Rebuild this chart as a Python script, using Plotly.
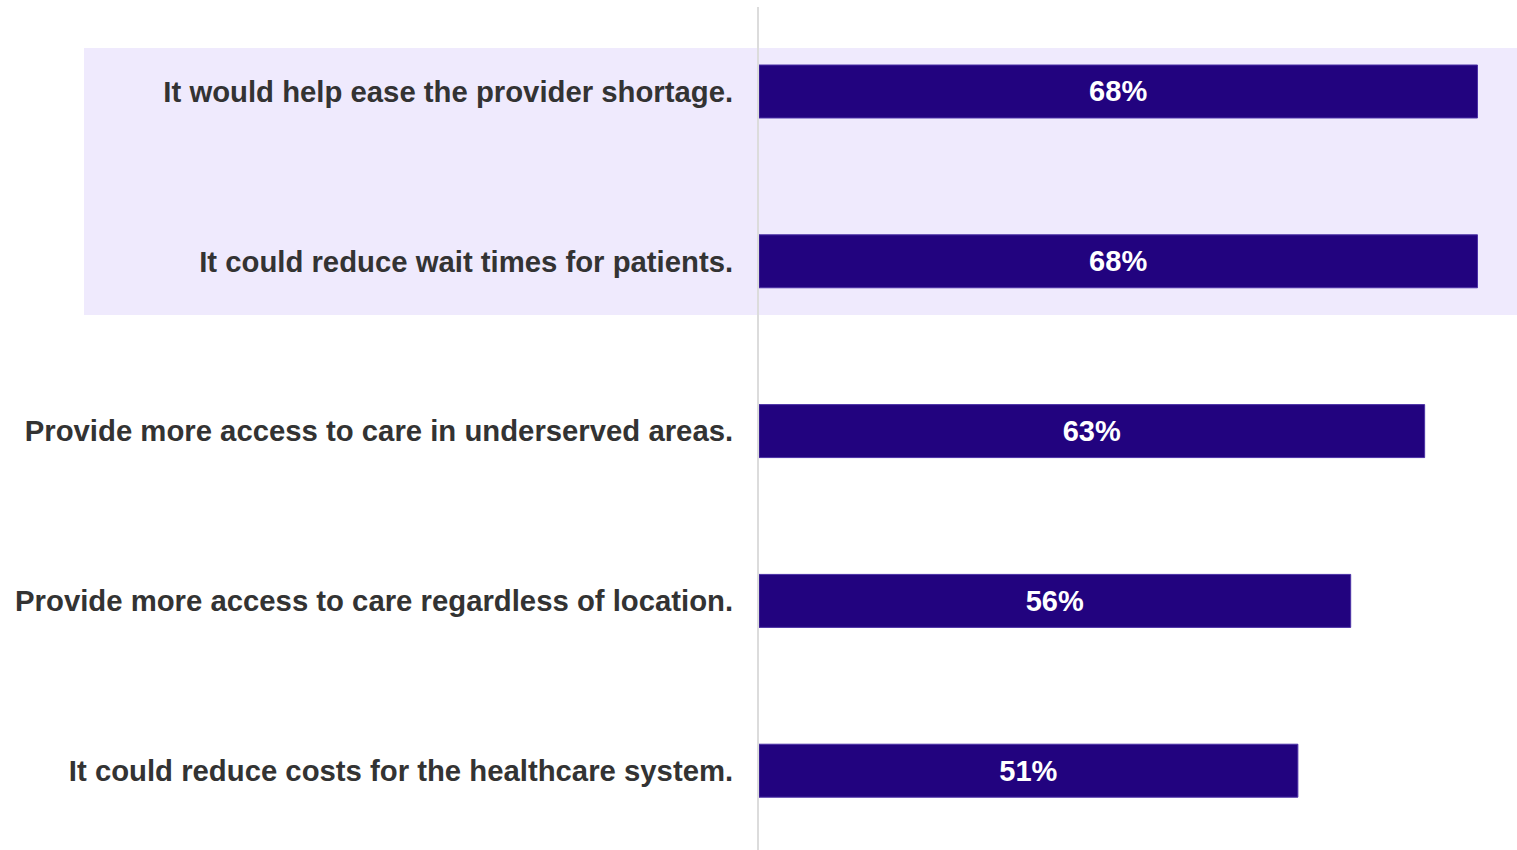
import plotly.graph_objects as go

categories = [
    "It would help ease the provider shortage.",
    "It could reduce wait times for patients.",
    "Provide more access to care in underserved areas.",
    "Provide more access to care regardless of location.",
    "It could reduce costs for the healthcare system.",
]
values = [68, 68, 63, 56, 51]
highlighted = categories[:2]

BAR_COLOR = "#22037f"
TEXT_COLOR = "#333333"
HIGHLIGHT = "#efeafd"
FONT = "Arial, Liberation Sans, sans-serif"

y_range = [4.467, -0.4976]
span = y_range[0] - y_range[1]


def ypaper(v):
    return (y_range[0] - v) / span


fig = go.Figure()
fig.add_trace(go.Bar(
    y=categories,
    x=values,
    orientation="h",
    width=0.312,
    marker=dict(color=BAR_COLOR, line=dict(color="#4b31a6", width=1)),
    texttemplate="%{x}%",
    textposition="inside",
    insidetextanchor="middle",
    textfont=dict(color="white", size=29, family=FONT, weight="bold"),
    hoverinfo="skip",
))

# highlight band behind the first two categories
i0 = categories.index(highlighted[0])
i1 = categories.index(highlighted[-1])
fig.add_shape(
    type="rect", xref="paper", yref="paper",
    x0=-0.8905, x1=1.0,
    y0=ypaper(i1 + 0.316), y1=ypaper(i0 - 0.256),
    fillcolor=HIGHLIGHT, line=dict(width=0), layer="below",
)

fig.update_layout(
    width=1517, height=850,
    margin=dict(l=759, r=0, t=7, b=0),
    paper_bgcolor="white",
    plot_bgcolor="rgba(0,0,0,0)",
    showlegend=False,
    font=dict(family=FONT),
)
fig.update_xaxes(range=[0, 71.74], visible=False, showgrid=False, zeroline=False)
fig.update_yaxes(
    range=y_range,
    showgrid=False, zeroline=False,
    showline=True, linecolor="#dcdcdc", linewidth=2,
    ticks="",
    ticklabelstandoff=18,
    tickfont=dict(size=29.3, color=TEXT_COLOR, family=FONT, weight="bold"),
)

fig.write_html(
    "out.html",
    config={"displayModeBar": False},
    post_script="document.body.style.margin='0';document.body.style.overflow='hidden';",
)
